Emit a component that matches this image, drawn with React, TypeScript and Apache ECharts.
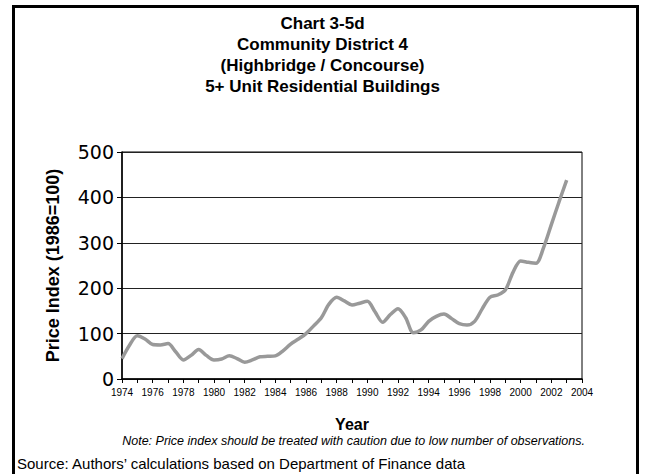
import React, { useEffect, useRef } from "react";
import * as echarts from "echarts";

const years: number[] = [
  1974, 1974.5, 1975, 1975.5, 1976, 1976.5, 1977, 1977.5, 1978, 1978.5,
  1979, 1979.5, 1980, 1980.5, 1981, 1981.5, 1982, 1982.5, 1983, 1983.5,
  1984, 1984.5, 1985, 1985.5, 1986, 1986.5, 1987, 1987.5, 1988, 1988.5,
  1989, 1989.5, 1990, 1990.5, 1991, 1991.5, 1992, 1992.5, 1993, 1993.5,
  1994, 1994.5, 1995, 1995.5, 1996, 1996.5, 1997, 1997.5, 1998, 1998.5,
  1999, 1999.5, 2000, 2000.5, 2001, 2001.5, 2002, 2002.5, 2003,
];
const priceIndex: number[] = [
  45, 75, 95, 88, 76, 75, 78, 60, 42, 52,
  65, 52, 42, 44, 51, 45, 37, 42, 49, 50,
  51, 62, 77, 88, 100, 117, 135, 165, 180, 172,
  163, 167, 171, 148, 125, 142, 155, 135, 102, 108,
  127, 138, 143, 133, 122, 119, 127, 155, 180, 185,
  196, 235, 260, 257, 255, 290, 340, 390, 438,
];
const titleLines: string[] = [
  "Chart 3-5d",
  "Community District 4",
  "(Highbridge / Concourse)",
  "5+ Unit Residential Buildings",
];
const yAxisName = "Price Index (1986=100)";
const xAxisName = "Year";
const noteText = "Note: Price index should be treated with caution due to low number of observations.";
const sourceText = "Source: Authors\u2019 calculations based on Department of Finance data";

export default function App() {
  const ref = useRef<HTMLDivElement>(null);
  useEffect(() => {
    if (!ref.current) return;
    const chart = echarts.init(ref.current, undefined, { renderer: "svg" });
    const font = "'Liberation Sans', Arial, sans-serif";
    chart.setOption({
      animation: false,
      backgroundColor: "#fff",
      title: {
        text: titleLines.join("\n"),
        left: "center",
        top: 8,
        textStyle: {
          fontFamily: font,
          fontWeight: "bold",
          fontSize: 17,
          lineHeight: 21,
          color: "#000",
        },
      },
      grid: {
        left: 122,
        top: 152,
        right: 63,
        bottom: 95,
        show: true,
        borderColor: "#000",
        borderWidth: 1,
        containLabel: false,
      },
      xAxis: {
        type: "value",
        min: 1974,
        max: 2004,
        interval: 2,
        name: xAxisName,
        nameLocation: "middle",
        nameGap: 37,
        nameTextStyle: { fontFamily: font, fontWeight: "bold", fontSize: 16, color: "#000" },
        axisLine: { show: true, onZero: false, lineStyle: { color: "#000", width: 1.5 } },
        axisTick: { show: true, length: 4, lineStyle: { color: "#000", width: 1 } },
        minorTick: { show: true, splitNumber: 2, length: 4, lineStyle: { color: "#000", width: 1 } },
        splitLine: { show: false },
        axisLabel: {
          fontFamily: "'Liberation Sans Narrow', 'Arial Narrow', 'Liberation Sans', sans-serif",
          fontSize: 10,
          color: "#000",
          margin: 8,
          formatter: (v: number) => String(v),
        },
      },
      yAxis: {
        type: "value",
        min: 0,
        max: 500,
        interval: 100,
        name: yAxisName,
        nameLocation: "middle",
        nameGap: 60,
        nameRotate: 90,
        nameTextStyle: { fontFamily: font, fontWeight: "bold", fontSize: 18, color: "#000" },
        axisLine: { show: true, lineStyle: { color: "#000", width: 1.5 } },
        axisTick: { show: true, length: 5, lineStyle: { color: "#000", width: 1 } },
        splitLine: { show: true, lineStyle: { color: "#222", width: 1 } },
        axisLabel: {
          fontFamily: "'DejaVu Sans', sans-serif",
          fontSize: 19,
          color: "#000",
          margin: 8,
        },
      },
      series: [
        {
          type: "line",
          data: years.map((y, i) => [y, priceIndex[i]]),
          showSymbol: false,
          smooth: 0.3,
          lineStyle: { color: "#999999", width: 3.5 },
          itemStyle: { color: "#999999" },
        },
      ],
      graphic: [
        {
          type: "rect",
          shape: { x: 13.5, y: 6.5, width: 624, height: 490 },
          style: { fill: "none", stroke: "#000", lineWidth: 3 },
          silent: true,
        },
        {
          type: "text",
          x: 585,
          y: 441,
          style: {
            text: noteText,
            fontFamily: font,
            fontStyle: "italic",
            fontSize: 12.5,
            fill: "#000",
            align: "right",
            verticalAlign: "middle",
          },
        },
        {
          type: "text",
          x: 17,
          y: 463,
          style: {
            text: sourceText,
            fontFamily: font,
            fontSize: 15,
            fill: "#000",
            align: "left",
            verticalAlign: "middle",
          },
        },
      ],
    });
    return () => chart.dispose();
  }, []);
  return (
    <div
      ref={ref}
      style={{ position: "absolute", left: 0, top: 0, width: 645, height: 474 }}
    />
  );
}
